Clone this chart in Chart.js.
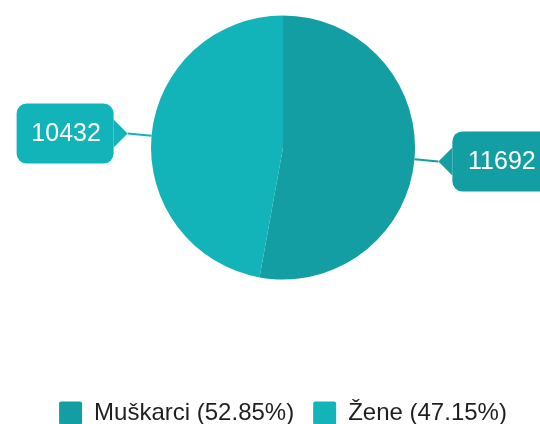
<!DOCTYPE html>
<html>
<head>
<meta charset="utf-8">
<script src="https://cdn.jsdelivr.net/npm/chart.js@4/dist/chart.umd.min.js"></script>
<style>
  html, body { margin: 0; padding: 0; background: #fff; }
  #wrap { width: 540px; height: 424px; }
</style>
</head>
<body>
<div id="wrap"><canvas id="chart"></canvas></div>
<script>
const categories = ["Muškarci", "Žene"]
const counts = [11692, 10432]
const colors = ["#129ea2", "#13b3ba"]

const FONT = "'Liberation Sans', Arial, Helvetica, sans-serif"
const total = counts.reduce((a, b) => a + b, 0)

// callout boxes with a leader line at each slice's middle angle
const calloutPlugin = {
  id: "callouts",
  afterDatasetsDraw(chart) {
    const ctx = chart.ctx
    const meta = chart.getDatasetMeta(0)
    meta.data.forEach((arc, i) => {
      const { x, y, startAngle, endAngle, outerRadius } = arc.getProps(
        ["x", "y", "startAngle", "endAngle", "outerRadius"], true)
      const mid = (startAngle + endAngle) / 2
      const cos = Math.cos(mid)
      const sin = Math.sin(mid)
      const x0 = x + cos * outerRadius
      const y0 = y + sin * outerRadius
      const tx = x + cos * (outerRadius + 24)
      const ty = y + sin * (outerRadius + 24)
      const dir = cos >= 0 ? 1 : -1
      const color = colors[i]

      ctx.save()
      ctx.strokeStyle = color
      ctx.lineWidth = 2
      ctx.beginPath()
      ctx.moveTo(x0, y0)
      ctx.lineTo(tx, ty)
      ctx.stroke()

      const arrow = 14
      const w = 97
      const h = 60
      const r = 10
      const bx = dir > 0 ? tx + arrow : tx - arrow - w
      const by = ty - h / 2
      ctx.fillStyle = color
      ctx.beginPath()
      ctx.roundRect(bx, by, w, h, r)
      ctx.fill()
      ctx.beginPath()
      ctx.moveTo(tx + dir * arrow, ty - arrow)
      ctx.lineTo(tx, ty)
      ctx.lineTo(tx + dir * arrow, ty + arrow)
      ctx.closePath()
      ctx.fill()

      ctx.fillStyle = "#ffffff"
      ctx.font = "25px " + FONT
      ctx.textAlign = "center"
      ctx.textBaseline = "middle"
      ctx.fillText(String(counts[i]), bx + w / 2 + 1, ty + 1)
      ctx.restore()
    })
  },
}

new Chart(document.getElementById("chart"), {
  type: "pie",
  data: {
    labels: categories,
    datasets: [
      {
        data: counts,
        backgroundColor: colors,
        borderWidth: 0,
        hoverOffset: 0,
      },
    ],
  },
  options: {
    animation: false,
    responsive: true,
    maintainAspectRatio: false,
    radius: 132,
    layout: { padding: { left: 26, right: 0, top: 15, bottom: -11 } },
    plugins: {
      tooltip: { enabled: false },
      legend: {
        position: "bottom",
        title: {
          display: true,
          text: "",
          font: { size: 10, lineHeight: 1 },
          padding: { top: 92, bottom: 0 },
        },
        labels: {
          boxWidth: 23,
          boxHeight: 23,
          padding: 19,
          useBorderRadius: true,
          borderRadius: 2,
          color: "#1f1f1f",
          font: { family: FONT, size: 24 },
          generateLabels: (chart) =>
            categories.map((name, i) => ({
              text: `${name} (${((counts[i] / total) * 100).toFixed(2)}%)`,
              fillStyle: colors[i],
              strokeStyle: colors[i],
              fontColor: "#1f1f1f",
              lineWidth: 0,
              borderRadius: 2,
              index: i,
            })),
        },
      },
    },
  },
  plugins: [calloutPlugin],
})
</script>
</body>
</html>
